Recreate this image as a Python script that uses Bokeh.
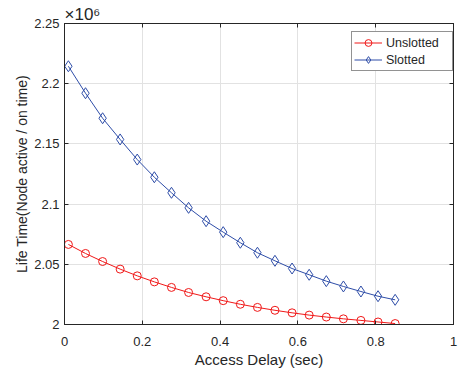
from bokeh.plotting import figure
from bokeh.models import (Legend, LegendItem, FixedTicker, CustomJSTickFormatter,
                          LinearAxis, Range1d)
from bokeh.embed import file_html
from bokeh.resources import INLINE

# ---- data (y values in units of 1e6) ----
access_delay = [0.010, 0.054, 0.098, 0.143, 0.187, 0.231, 0.275, 0.319, 0.364, 0.408,
                0.452, 0.496, 0.541, 0.585, 0.629, 0.673, 0.717, 0.762, 0.806, 0.850]
unslotted = [2.0665, 2.0590, 2.0523, 2.0460, 2.0404, 2.0354, 2.0308, 2.0266, 2.0230, 2.0198,
             2.0168, 2.0142, 2.0118, 2.0097, 2.0078, 2.0062, 2.0047, 2.0034, 2.0021, 2.0008]
slotted = [2.2145, 2.1921, 2.1713, 2.1537, 2.1370, 2.1223, 2.1094, 2.0969, 2.0858, 2.0767,
           2.0679, 2.0596, 2.0529, 2.0465, 2.0413, 2.0360, 2.0316, 2.0274, 2.0235, 2.0205]
x_ticks = [0, 0.2, 0.4, 0.6, 0.8, 1.0]
y_ticks = [2.0, 2.05, 2.1, 2.15, 2.2, 2.25]
series_names = ["Unslotted", "Slotted"]

DARK = "#262626"
FONT = "Liberation Sans"
RED = "#F01818"
BLUE = "#2E4DA8"

p = figure(width=462, height=373, output_backend="svg", toolbar_location=None,
           x_range=Range1d(0, 1), y_range=Range1d(2.0, 2.25),
           min_border_left=64, min_border_right=9, min_border_top=23, min_border_bottom=49,
           x_axis_label="Access Delay (sec)",
           y_axis_label="Life Time(Node active / on time)",
           title="×10\u2076")
p.title.align = "left"
p.title.offset = 0
p.title.standoff = 0
p.title.text_font = FONT
p.title.text_font_size = "17px"
p.title.text_font_style = "normal"
p.title.text_color = DARK
p.outline_line_color = DARK
p.outline_line_width = 1

fmt = CustomJSTickFormatter(code="return String(+tick.toFixed(4));")
blank = CustomJSTickFormatter(code="return '';")

for ax, ticks in ((p.xaxis[0], x_ticks), (p.yaxis[0], y_ticks)):
    ax.ticker = FixedTicker(ticks=ticks)
    ax.formatter = fmt
    ax.axis_line_color = DARK
    ax.major_tick_line_color = DARK
    ax.major_tick_in = 4
    ax.major_tick_out = 0
    ax.minor_tick_line_color = None
    ax.major_label_text_font = FONT
    ax.major_label_text_font_size = "13px"
    ax.major_label_text_color = DARK
    ax.axis_label_text_font = FONT
    ax.axis_label_text_font_style = "normal"
    ax.axis_label_text_color = DARK
p.xaxis[0].axis_label_text_font_size = "15px"
p.yaxis[0].axis_label_text_font_size = "14px"
p.xaxis[0].major_label_standoff = 12
p.xaxis[0].axis_label_standoff = 2
p.yaxis[0].major_label_standoff = 5
p.yaxis[0].axis_label_standoff = 1

# mirror axes (top / right) with inward ticks, no labels
for loc, ticks in (("above", x_ticks), ("right", y_ticks)):
    ax = LinearAxis(ticker=FixedTicker(ticks=ticks), formatter=blank,
                    major_tick_in=4, major_tick_out=0,
                    minor_tick_line_color=None, axis_line_color=DARK,
                    major_tick_line_color=DARK, major_label_standoff=0)
    p.add_layout(ax, loc)

p.xgrid.ticker = FixedTicker(ticks=x_ticks)
p.ygrid.ticker = FixedTicker(ticks=y_ticks)
p.xgrid.grid_line_color = "#e2e2e2"
p.ygrid.grid_line_color = "#e2e2e2"

r1l = p.line(access_delay, unslotted, line_color=RED, line_width=1)
r1m = p.scatter(access_delay, unslotted, marker="circle", size=8, line_color=RED,
                fill_color=None, line_width=1)
r2l = p.line(access_delay, slotted, line_color=BLUE, line_width=1)
r2m = p.scatter(access_delay, slotted, marker="diamond", size=11, line_color=BLUE,
                fill_color=None, line_width=1)

legend = Legend(items=[LegendItem(label=series_names[0], renderers=[r1l, r1m]),
                       LegendItem(label=series_names[1], renderers=[r2l, r2m])],
                location=(287, 253), padding=2, spacing=0, margin=0,
                glyph_width=28, glyph_height=17, label_height=17, label_width=64,
                label_standoff=4, label_text_font=FONT, label_text_font_size="12.5px",
                label_text_color=DARK, border_line_color=DARK, border_line_width=1,
                background_fill_color="white", background_fill_alpha=1)
p.add_layout(legend, "center")

open("out.html", "w").write(file_html(p, INLINE))
